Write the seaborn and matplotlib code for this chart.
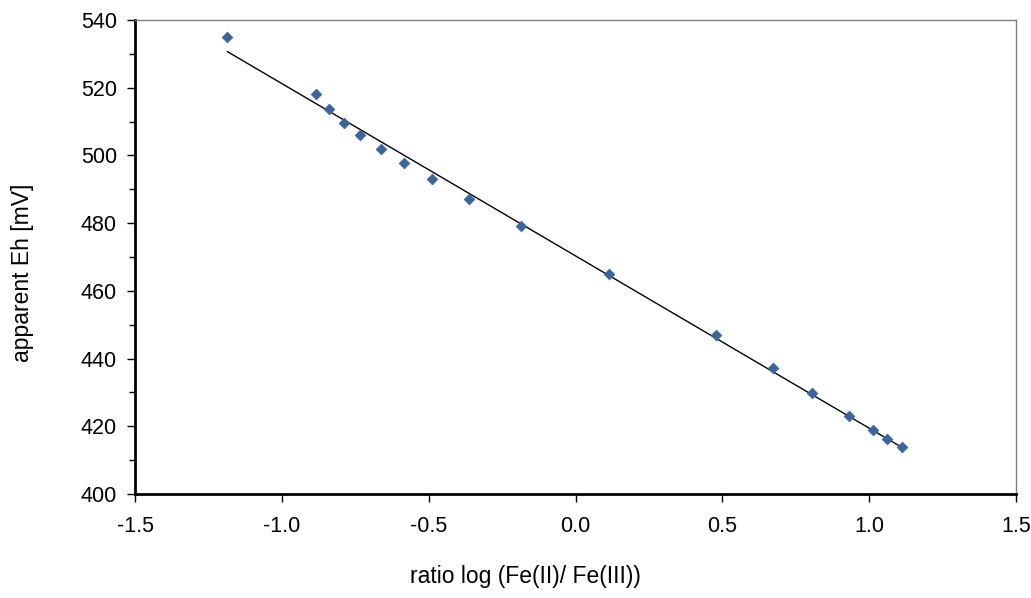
import numpy as np
import pandas as pd
import matplotlib
matplotlib.use("Agg")
import matplotlib.pyplot as plt
from matplotlib.ticker import MultipleLocator, FormatStrFormatter
import seaborn as sns

log_ratio = [-1.186, -0.884, -0.839, -0.788, -0.734, -0.663, -0.585, -0.488, -0.363,
             -0.187, 0.114, 0.477, 0.674, 0.806, 0.931, 1.012, 1.062, 1.111]
eh_mv = [534.9, 518.2, 513.7, 509.7, 506.1, 502.0, 497.9, 492.9, 487.2,
         479.2, 465.1, 447.1, 437.1, 429.8, 423.1, 419.0, 416.2, 413.8]

x_label = "ratio log (Fe(II)/ Fe(III))"
y_label = "apparent Eh [mV]"

sns.set_style("white")
plt.rcParams['font.family'] = ['Liberation Sans', 'DejaVu Sans']
plt.rcParams['text.color'] = 'black'
plt.rcParams['axes.labelcolor'] = 'black'

df = pd.DataFrame({"x": log_ratio, "y": eh_mv})
slope, intercept = np.polyfit(df["x"], df["y"], 1)
xs = np.array([df["x"].min(), df["x"].max()])
fit = pd.DataFrame({"x": xs, "y": slope * xs + intercept})

fig = plt.figure(figsize=(10.31, 5.98), dpi=100)
ax = fig.add_axes([135/1031, 1 - 494/598, (1016-135)/1031, (494-20)/598])

sns.lineplot(data=fit, x="x", y="y", ax=ax, color="black", linewidth=1.0)
sns.scatterplot(data=df, x="x", y="y", ax=ax, marker="D", s=30,
                color="#3A659C", edgecolor="#3A659C", linewidth=0.5, zorder=3)

ax.set_xlim(-1.5, 1.5)
ax.set_ylim(400, 540)
ax.xaxis.set_major_locator(MultipleLocator(0.5))
ax.xaxis.set_major_formatter(FormatStrFormatter("%.1f"))
ax.yaxis.set_major_locator(MultipleLocator(20))
ax.yaxis.set_minor_locator(MultipleLocator(10))

for s in ["left", "bottom"]:
    ax.spines[s].set_color("black")
    ax.spines[s].set_linewidth(2.0)
for s in ["top", "right"]:
    ax.spines[s].set_color("#808080")
    ax.spines[s].set_linewidth(1.0)

ax.tick_params(axis="y", which="major", direction="out", length=6, width=1,
               left=True, labelsize=15.5, colors="black", labelcolor="black", pad=7)
ax.tick_params(axis="y", which="minor", direction="out", length=4, width=1, left=True,
               colors="black")
ax.tick_params(axis="x", which="major", direction="out", length=6, width=1,
               bottom=True, labelsize=15.5, colors="black", labelcolor="black", pad=10)

ax.set_xlabel(x_label, fontsize=16.5, color="black")
ax.set_ylabel(y_label, fontsize=16.5, color="black")
ax.xaxis.label.set_va("center")
ax.yaxis.label.set_va("center")
ax.xaxis.set_label_coords(0.4427, -0.173)
ax.yaxis.set_label_coords(-0.128, 0.467)

fig.savefig("out.png", dpi=100)
